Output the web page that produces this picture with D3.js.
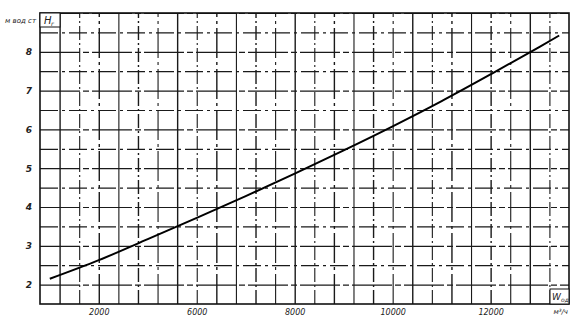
<!DOCTYPE html>
<html>
<head>
<meta charset="utf-8">
<script src="https://cdn.jsdelivr.net/npm/d3@7"></script>
<style>
  body { margin: 0; background: #fff; }
  svg text { font-family: "DejaVu Sans", sans-serif; font-style: italic; fill: #222; }
</style>
</head>
<body>
<div id="chart"></div>
<script>
// values
var flow = [3000, 4000, 5000, 6000, 7000, 8000, 9000, 10000, 11000, 12000, 13000, 13400];
var head = [2.15, 2.63, 3.17, 3.72, 4.28, 4.86, 5.46, 6.08, 6.73, 7.42, 8.13, 8.42];
var xTickValues = [4000, 6000, 8000, 10000, 12000];
var xTickLabels = ["2000", "6000", "8000", "10000", "12000"];
var yTickValues = [2, 3, 4, 5, 6, 7, 8];

var svgWidth = 577;
var svgHeight = 321;
var margin = { top: 13, right: 8, bottom: 17, left: 40 };
var width = svgWidth - margin.left - margin.right;
var height = svgHeight - margin.top - margin.bottom;

var svg = d3.select("#chart")
  .append("svg")
  .attr("width", svgWidth)
  .attr("height", svgHeight);

var chartGroup = svg.append("g")
  .attr("transform", `translate(${margin.left}, ${margin.top})`);

var xScale = d3.scaleLinear().domain([2800, 13600]).range([0, width]);
var yScale = d3.scaleLinear().domain([1.5, 9]).range([height, 0]);

// grid, drawn through the axes
var xGrid = d3.axisBottom(xScale)
  .tickValues(d3.range(3200, 13600, 400))
  .tickSize(-height)
  .tickFormat("");
var yGrid = d3.axisLeft(yScale)
  .tickValues(d3.range(2, 9.01, 0.5))
  .tickSize(-width)
  .tickFormat("");

chartGroup.append("g")
  .attr("class", "xgrid")
  .attr("transform", `translate(0, ${height})`)
  .call(xGrid)
  .call(g => g.select(".domain").remove())
  .selectAll("line")
  .attr("stroke", "#1a1a1a")
  .attr("stroke-width", (d, i) => i % 2 ? 1.1 : 1.4)
  .attr("stroke-dasharray", (d, i) => i % 3 === 1 ? "14,3,2,3" : (i % 3 === 2 ? "30,4,3,4" : null));

chartGroup.append("g")
  .attr("class", "ygrid")
  .call(yGrid)
  .call(g => g.select(".domain").remove())
  .selectAll("line")
  .attr("stroke", "#1a1a1a")
  .attr("stroke-width", 1.2)
  .attr("stroke-dasharray", (d, i) => i % 2 ? "18,4,3,4" : "40,3,6,3");

// frame
chartGroup.append("rect")
  .attr("width", width)
  .attr("height", height)
  .attr("fill", "none")
  .attr("stroke", "#111")
  .attr("stroke-width", 1.6);

// tick labels
var bottomAxis = d3.axisBottom(xScale)
  .tickValues(xTickValues)
  .tickSize(0)
  .tickPadding(5)
  .tickFormat((d, i) => xTickLabels[i]);
var leftAxis = d3.axisLeft(yScale)
  .tickValues(yTickValues)
  .tickSize(0)
  .tickPadding(8);

chartGroup.append("g")
  .attr("transform", `translate(0, ${height})`)
  .call(bottomAxis)
  .call(g => g.select(".domain").remove())
  .selectAll("text")
  .attr("font-size", "8px")
  .attr("font-family", "DejaVu Sans")
  .attr("font-style", "italic")
  .attr("fill", "#333");

chartGroup.append("g")
  .call(leftAxis)
  .call(g => g.select(".domain").remove())
  .selectAll("text")
  .attr("font-size", "9px")
  .attr("font-weight", "bold")
  .attr("font-family", "DejaVu Sans")
  .attr("font-style", "italic")
  .attr("fill", "#222");

// curve
var line = d3.line()
  .x((d, i) => xScale(flow[i]))
  .y(d => yScale(d))
  .curve(d3.curveMonotoneX);

chartGroup.append("path")
  .datum(head)
  .attr("d", line)
  .attr("fill", "none")
  .attr("stroke", "#000")
  .attr("stroke-width", 2);

// axis titles
chartGroup.append("rect")
  .attr("x", 0).attr("y", 0)
  .attr("width", 20).attr("height", 14)
  .attr("fill", "#fff")
  .attr("stroke", "#111");
chartGroup.append("text")
  .attr("x", 4).attr("y", 11)
  .attr("font-size", "10px")
  .text("H");
chartGroup.append("text")
  .attr("x", 11).attr("y", 13)
  .attr("font-size", "6px")
  .text("г");
svg.append("text")
  .attr("x", 36).attr("y", 23)
  .attr("text-anchor", "end")
  .attr("font-size", "7px")
  .attr("fill", "#444")
  .text("м вод ст");

chartGroup.append("rect")
  .attr("x", width - 19).attr("y", height - 15)
  .attr("width", 19).attr("height", 15)
  .attr("fill", "#fff")
  .attr("stroke", "#111");
chartGroup.append("text")
  .attr("x", width - 17).attr("y", height - 4)
  .attr("font-size", "9px")
  .attr("font-style", "normal")
  .text("W");
chartGroup.append("text")
  .attr("x", width - 8).attr("y", height - 2)
  .attr("font-size", "6px")
  .text("од");
svg.append("text")
  .attr("x", margin.left + width - 1).attr("y", margin.top + height + 10)
  .attr("text-anchor", "end")
  .attr("font-size", "7px")
  .text("м³/ч");
</script>
</body>
</html>
